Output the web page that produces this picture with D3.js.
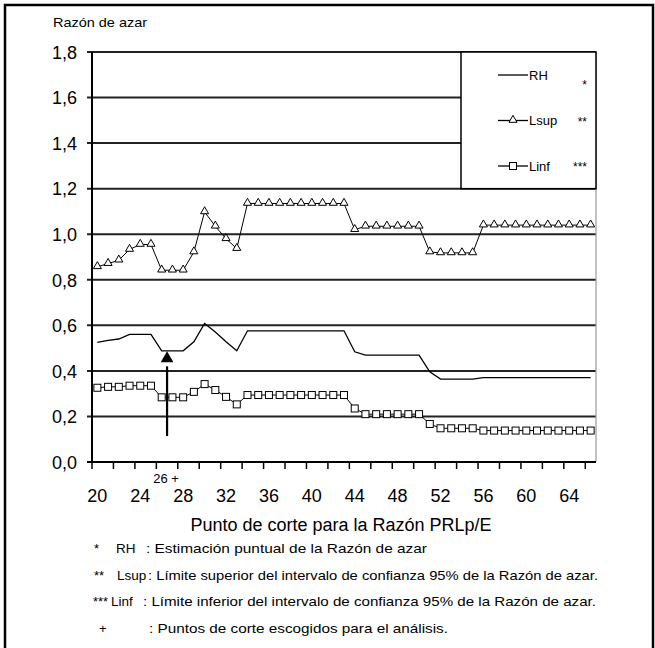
<!DOCTYPE html>
<html>
<head>
<meta charset="utf-8">
<script src="https://cdn.jsdelivr.net/npm/d3@7"></script>
<style>
  body { margin: 0; background: #fff; }
  text { font-family: "Liberation Sans", Arial, sans-serif; fill: #000; }
</style>
</head>
<body>
<div id="chart"></div>
<script>
// cut points (categories) and the three series
const cortes = [20, 21, 22, 23, 24, 25, 26, 27, 28, 29, 30, 31, 32, 33, 34, 35, 36, 37, 38, 39, 40, 41, 42, 43,
  44, 45, 46, 47, 48, 49, 50, 51, 52, 53, 54, 55, 56, 57, 58, 59, 60, 61, 62, 63, 64, 65, 66]

const rh = [0.525, 0.534, 0.54, 0.56, 0.56, 0.56, 0.488, 0.488, 0.488, 0.528, 0.608, 0.571, 0.528, 0.488,
  0.576, 0.576, 0.576, 0.576, 0.576, 0.576, 0.576, 0.576, 0.576, 0.576,
  0.484, 0.469, 0.469, 0.469, 0.469, 0.469, 0.469, 0.396, 0.364, 0.364, 0.364, 0.364,
  0.37, 0.37, 0.37, 0.37, 0.37, 0.37, 0.37, 0.37, 0.37, 0.37, 0.37]

const lsup = [0.857, 0.871, 0.886, 0.933, 0.955, 0.955, 0.842, 0.842, 0.842, 0.922, 1.098, 1.035, 0.98, 0.937,
  1.135, 1.135, 1.135, 1.135, 1.135, 1.135, 1.135, 1.135, 1.135, 1.135,
  1.02, 1.035, 1.035, 1.035, 1.035, 1.035, 1.035, 0.922, 0.918, 0.918, 0.918, 0.918,
  1.04, 1.04, 1.04, 1.04, 1.04, 1.04, 1.04, 1.04, 1.04, 1.04, 1.04]

const linf = [0.326, 0.33, 0.33, 0.335, 0.335, 0.335, 0.284, 0.284, 0.284, 0.308, 0.342, 0.316, 0.286, 0.253,
  0.294, 0.294, 0.294, 0.294, 0.294, 0.294, 0.294, 0.294, 0.294, 0.294,
  0.235, 0.21, 0.21, 0.21, 0.21, 0.21, 0.21, 0.167, 0.148, 0.148, 0.148, 0.148,
  0.138, 0.138, 0.138, 0.138, 0.138, 0.138, 0.138, 0.138, 0.138, 0.138, 0.138]

const yTicks = [0, 0.2, 0.4, 0.6, 0.8, 1.0, 1.2, 1.4, 1.6, 1.8]
const xTickLabels = [20, 24, 28, 32, 36, 40, 44, 48, 52, 56, 60, 64]
const elegido = 26

const notas = [
  ['*', 'RH', ': Estimación puntual de la Razón de azar'],
  ['**', 'Lsup', ': Límite superior del intervalo de confianza 95% de la Razón de azar.'],
  ['***', 'Linf', ': Límite inferior del intervalo de confianza 95% de la Razón de azar.'],
  ['+', '', ': Puntos de corte escogidos para el análisis.']
]

// footnote layout (x of symbol, label, text and text width per row)
const notaLayout = [
  { s: 94, l: 116, t: 146, w: 281 },
  { s: 94, l: 117, t: 148, w: 450 },
  { s: 93, l: 111, t: 143, w: 453 },
  { s: 99, l: 116, t: 149, w: 299 }
]

const W = 655
const H = 648
const margin = { top: 52, left: 92, right: 59, bottom: 186 }
const width = W - margin.left - margin.right
const height = H - margin.top - margin.bottom

const svg = d3
  .select('#chart')
  .append('svg')
  .attr('width', W)
  .attr('height', H)

// outer frame
svg
  .append('rect')
  .attr('x', 5)
  .attr('y', 5)
  .attr('width', 648)
  .attr('height', 670)
  .attr('fill', 'none')
  .attr('stroke', '#000')
  .attr('stroke-width', 2.5)

const g = svg
  .append('g')
  .attr('transform', 'translate(' + margin.left + ',' + margin.top + ')')

const x = d3.scaleBand().domain(cortes).range([0, width]).padding(0)
const y = d3.scaleLinear().domain([0, 1.8]).range([height, 0])
const cx = d => x(d) + x.bandwidth() / 2

// gridlines
g.selectAll('.grid')
  .data(yTicks.filter(d => d > 0))
  .enter()
  .append('line')
  .attr('x1', -5)
  .attr('x2', width)
  .attr('y1', d => y(d))
  .attr('y2', d => y(d))
  .attr('stroke', '#222')
  .attr('stroke-width', 2)

// right edge of plot
g.append('line')
  .attr('x1', width)
  .attr('x2', width)
  .attr('y1', 0)
  .attr('y2', height)
  .attr('stroke', '#999')
  .attr('stroke-width', 1.2)

// y axis
const yAxis = d3
  .axisLeft(y)
  .tickValues(yTicks)
  .tickSize(0)
  .tickPadding(15)
  .tickFormat(d => d3.format('.1f')(d).replace('.', ','))
g.append('g').attr('class', 'y-axis').call(yAxis)
g.selectAll('.y-axis path').remove()
g.selectAll('.y-axis text').attr('font-size', 18).attr('dy', '0.35em')
g.selectAll('.y-axis line').remove()

g.append('line')
  .attr('x1', 0)
  .attr('x2', 0)
  .attr('y1', 0)
  .attr('y2', height)
  .attr('stroke', '#000')
  .attr('stroke-width', 2)

// x axis
g.append('line')
  .attr('x1', -5)
  .attr('x2', width)
  .attr('y1', height)
  .attr('y2', height)
  .attr('stroke', '#000')
  .attr('stroke-width', 2)

g.selectAll('.xtick')
  .data(cortes.filter((d, i) => i % 2 === 0))
  .enter()
  .append('line')
  .attr('x1', d => x(d))
  .attr('x2', d => x(d))
  .attr('y1', height)
  .attr('y2', height + 7)
  .attr('stroke', '#000')
  .attr('stroke-width', 1.5)

const xAxis = d3.axisBottom(x).tickValues(xTickLabels).tickSize(0).tickPadding(27)
g.append('g')
  .attr('class', 'x-axis')
  .attr('transform', 'translate(0,' + height + ')')
  .call(xAxis)
g.selectAll('.x-axis path').remove()
g.selectAll('.x-axis text').attr('font-size', 18)

// legend box covers the grid
const lg = g.append('g').attr('transform', 'translate(369,0)')
lg.append('rect')
  .attr('width', width - 369)
  .attr('height', y(1.2))
  .attr('fill', '#fff')
  .attr('stroke', '#000')
  .attr('stroke-width', 1.5)

// series
const line = d3
  .line()
  .x(d => cx(d[0]))
  .y(d => y(d[1]))

const series = [
  { name: 'RH', values: rh, mark: null, stars: '*' },
  { name: 'Lsup', values: lsup, mark: 'tri', stars: '**' },
  { name: 'Linf', values: linf, mark: 'sq', stars: '***' }
]

const tri = d3.symbol().type(d3.symbolTriangle).size(28)

function drawMark (sel, type) {
  if (type === 'tri') {
    sel.append('path').attr('d', tri).attr('transform', 'translate(0,-0.5)')
  } else if (type === 'sq') {
    sel.append('rect').attr('x', -3.5).attr('y', -3.5).attr('width', 7).attr('height', 7)
  }
  sel.selectAll('path, rect').attr('fill', '#fff').attr('stroke', '#000').attr('stroke-width', 1)
}

series.forEach(s => {
  const pts = cortes.map((c, i) => [c, s.values[i]])
  g.append('path')
    .datum(pts)
    .attr('d', line)
    .attr('fill', 'none')
    .attr('stroke', '#000')
    .attr('stroke-width', s.mark ? 1 : 1.3)
  if (s.mark) {
    g.selectAll('.m-' + s.name)
      .data(pts)
      .enter()
      .append('g')
      .attr('class', 'm-' + s.name)
      .attr('transform', d => 'translate(' + cx(d[0]) + ',' + y(d[1]) + ')')
      .each(function () { drawMark(d3.select(this), s.mark) })
  }
})

// legend entries
series.forEach((s, i) => {
  const ly = 23 + i * 45.5
  lg.append('line')
    .attr('x1', 37)
    .attr('x2', 67)
    .attr('y1', ly)
    .attr('y2', ly)
    .attr('stroke', '#000')
    .attr('stroke-width', 1.3)
  if (s.mark) {
    const m = lg.append('g').attr('transform', 'translate(52,' + ly + ')')
    drawMark(m, s.mark)
  }
  lg.append('text')
    .attr('x', 68)
    .attr('y', ly)
    .attr('dy', '0.35em')
    .attr('font-size', 13)
    .text(s.name)
  lg.append('text')
    .attr('x', 126)
    .attr('y', ly + (i === 0 ? 10 : 1))
    .attr('dy', '0.35em')
    .attr('text-anchor', 'end')
    .attr('font-size', 12)
    .text(s.stars)
})

// arrow pointing at the chosen cut point
const ax = x(elegido) + x.bandwidth()
g.append('line')
  .attr('x1', ax)
  .attr('x2', ax)
  .attr('y1', height - 26)
  .attr('y2', y(0.42))
  .attr('stroke', '#000')
  .attr('stroke-width', 2.2)
g.append('path')
  .attr('d', d3.symbol().type(d3.symbolTriangle).size(70))
  .attr('transform', 'translate(' + ax + ',' + (y(0.48) + 6) + ')')
  .attr('fill', '#000')
g.append('text')
  .attr('x', ax - 1)
  .attr('y', height + 21)
  .attr('text-anchor', 'middle')
  .attr('font-size', 13)
  .text(elegido + ' +')

// titles
svg.append('text')
  .attr('x', 53)
  .attr('y', 27)
  .attr('font-size', 13)
  .attr('textLength', 94)
  .attr('lengthAdjust', 'spacingAndGlyphs')
  .text('Razón de azar')

svg.append('text')
  .attr('x', margin.left + width / 2 - 3)
  .attr('y', 531)
  .attr('text-anchor', 'middle')
  .attr('font-size', 18)
  .text('Punto de corte para la Razón PRLp/E')

// footnotes
const fn = svg.append('g')
notas.forEach((n, i) => {
  const fy = 553 + i * 26.5
  const p = notaLayout[i]
  fn.append('text').attr('x', p.s).attr('y', fy).attr('font-size', 13).text(n[0])
  fn.append('text').attr('x', p.l).attr('y', fy).attr('font-size', 13.5).text(n[1])
  fn.append('text')
    .attr('x', p.t)
    .attr('y', fy)
    .attr('font-size', 13.5)
    .attr('textLength', p.w)
    .attr('lengthAdjust', 'spacingAndGlyphs')
    .text(n[2])
})
</script>
</body>
</html>
